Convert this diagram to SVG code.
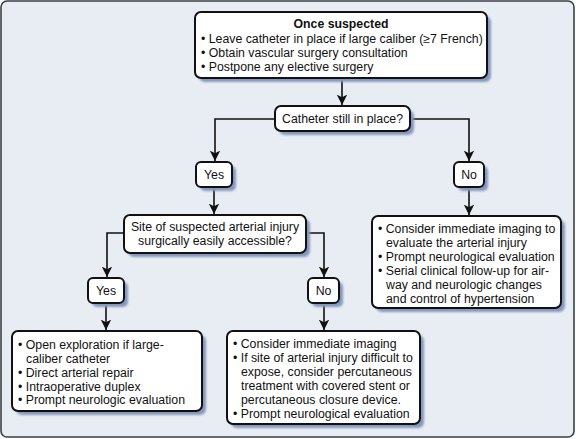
<svg xmlns="http://www.w3.org/2000/svg" width="576" height="439" viewBox="0 0 576 439">
<style>
text{font-family:"Liberation Sans",Arial,sans-serif;font-size:12.3px;fill:#111}
.c{text-anchor:middle}
.b{font-weight:bold}
.box{fill:#fff;stroke:#111;stroke-width:2}
.sh{fill:#8598bc;filter:url(#blur)}
.ln{fill:none;stroke:#111;stroke-width:1.6}
</style>
<defs>
<filter id="blur" x="-10%" y="-10%" width="120%" height="120%"><feGaussianBlur stdDeviation="0.8"/></filter>
<marker id="ah" viewBox="0 0 10 10" refX="10" refY="5" markerWidth="6.5" markerHeight="6.5" markerUnits="strokeWidth" orient="auto">
<path d="M0,0 L10,5 L0,10 L2.5,5 z" fill="#111"/>
</marker>
</defs>
<rect x="1" y="1" width="573" height="436" rx="6" fill="#e8ecf3" stroke="#3b3f45" stroke-width="1.6"/>

<g id="connectors">
<path class="ln" d="M342,78 V105" marker-end="url(#ah)"/>
<path class="ln" d="M275,119 H215 V161" marker-end="url(#ah)"/>
<path class="ln" d="M410,119 H469 V161" marker-end="url(#ah)"/>
<path class="ln" d="M214,188 V214" marker-end="url(#ah)"/>
<path class="ln" d="M469,188 V215" marker-end="url(#ah)"/>
<path class="ln" d="M124,233 H107 V277" marker-end="url(#ah)"/>
<path class="ln" d="M306,233 H324 V277" marker-end="url(#ah)"/>
<path class="ln" d="M106,304 V330" marker-end="url(#ah)"/>
<path class="ln" d="M324,304 V330" marker-end="url(#ah)"/>
</g>

<g id="once-suspected">
<rect class="sh" x="199" y="16" width="292" height="66" rx="6"/>
<rect class="box" x="195" y="12" width="292" height="66" rx="6"/>
<text class="c b" x="341" y="28">Once suspected</text>
<text x="201" y="42.5">• Leave catheter in place if large caliber (≥7 French)</text>
<text x="201" y="56.5">• Obtain vascular surgery consultation</text>
<text x="201" y="70.5">• Postpone any elective surgery</text>
</g>

<g id="catheter-in-place">
<rect class="sh" x="279" y="110" width="135" height="25" rx="6"/>
<rect class="box" x="275" y="106" width="135" height="25" rx="6"/>
<text class="c" x="342.5" y="123">Catheter still in place?</text>
</g>

<g id="yes1">
<rect class="sh" x="200" y="166" width="36" height="25" rx="5"/>
<rect class="box" x="196" y="162" width="36" height="25" rx="5"/>
<text class="c" x="214" y="179">Yes</text>
</g>

<g id="no1">
<rect class="sh" x="458" y="166" width="30" height="25" rx="5"/>
<rect class="box" x="454" y="162" width="30" height="25" rx="5"/>
<text class="c" x="469" y="179">No</text>
</g>

<g id="site-accessible">
<rect class="sh" x="128" y="219" width="182" height="38" rx="6"/>
<rect class="box" x="124" y="215" width="182" height="38" rx="6"/>
<text class="c" x="215" y="231">Site of suspected arterial injury</text>
<text class="c" x="215" y="245">surgically easily accessible?</text>
</g>

<g id="no-catheter-actions">
<rect class="sh" x="376" y="220" width="189" height="92" rx="6"/>
<rect class="box" x="372" y="216" width="189" height="92" rx="6"/>
<text x="378" y="232.5">• Consider immediate imaging to</text>
<text x="386" y="246.5">evaluate the arterial injury</text>
<text x="378" y="260.5">• Prompt neurological evaluation</text>
<text x="378" y="274.5">• Serial clinical follow-up for air-</text>
<text x="386" y="288.5">way and neurologic changes</text>
<text x="386" y="302.5">and control of hypertension</text>
</g>

<g id="yes2">
<rect class="sh" x="92" y="282" width="36" height="25" rx="5"/>
<rect class="box" x="88" y="278" width="36" height="25" rx="5"/>
<text class="c" x="106" y="295">Yes</text>
</g>

<g id="no2">
<rect class="sh" x="312" y="282" width="31" height="25" rx="5"/>
<rect class="box" x="308" y="278" width="31" height="25" rx="5"/>
<text class="c" x="323.5" y="295">No</text>
</g>

<g id="accessible-actions">
<rect class="sh" x="16" y="335" width="190" height="80" rx="6"/>
<rect class="box" x="12" y="331" width="190" height="80" rx="6"/>
<text x="18" y="348.5">• Open exploration if large-</text>
<text x="26" y="362.5">caliber catheter</text>
<text x="18" y="376.5">• Direct arterial repair</text>
<text x="18" y="390.5">• Intraoperative duplex</text>
<text x="18" y="404">• Prompt neurologic evaluation</text>
</g>

<g id="not-accessible-actions">
<rect class="sh" x="231" y="335" width="193" height="93" rx="6"/>
<rect class="box" x="227" y="331" width="193" height="93" rx="6"/>
<text x="233" y="347.5">• Consider immediate imaging</text>
<text x="233" y="361.5">• If site of arterial injury difficult to</text>
<text x="241" y="375.5">expose, consider percutaneous</text>
<text x="241" y="389.5">treatment with covered stent or</text>
<text x="241" y="403.5">percutaneous closure device.</text>
<text x="233" y="417.5">• Prompt neurological evaluation</text>
</g>
</svg>
